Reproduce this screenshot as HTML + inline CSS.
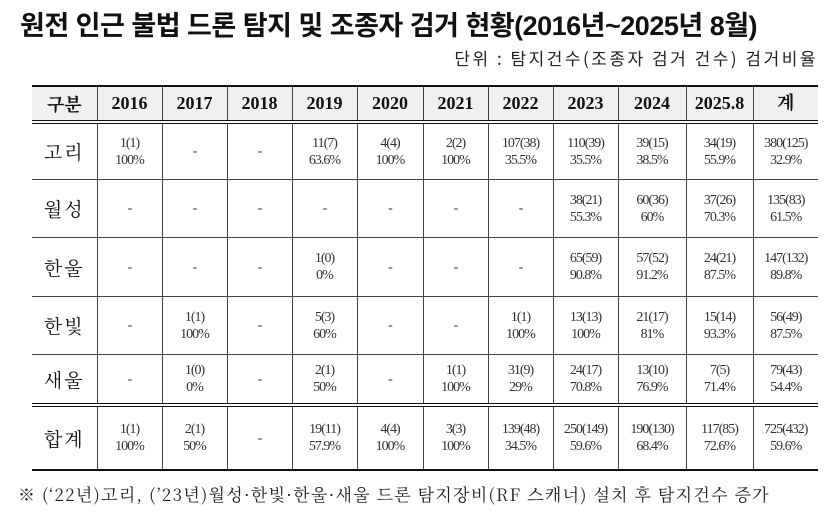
<!DOCTYPE html><html><head><meta charset="utf-8"><style>
body{margin:0;width:834px;height:526px;background:#fff;position:relative;overflow:hidden;font-family:"Liberation Serif","Noto Serif CJK SC",serif;color:#111}
.t{position:absolute;left:20px;top:4px;font:bold 27px "Liberation Sans","Noto Sans CJK KR",sans-serif;letter-spacing:-0.5px;white-space:nowrap}
.u{position:absolute;right:16px;top:45px;font:17px "Noto Sans CJK KR",sans-serif;letter-spacing:2.5px;color:#222;white-space:nowrap}
table{position:absolute;left:32px;top:85px;border-collapse:collapse;table-layout:fixed}
td{border:1px solid #444;text-align:center;padding:0;font-size:14px;line-height:17px;letter-spacing:-1px;color:#333}
td:first-child{border-left:none;font:19px "Noto Serif CJK KR",serif;color:#111;letter-spacing:2px}
td:last-child{border-right:none}
tr.h td{background:#f0f0f0;font-size:18px;font-weight:bold;color:#111;height:33px;border-top:2px solid #111;border-bottom:4px double #111;letter-spacing:0}
tr.h td:first-child{font:bold 18px "Noto Serif CJK KR",serif}
tr.s td{border-bottom:4px double #111}
tr.z td{border-bottom:2px solid #111}
.f{position:absolute;left:18px;top:481px;font:17px "Noto Serif CJK KR",serif;color:#222;letter-spacing:1.3px;white-space:nowrap}
</style></head><body>
<div class="t">원전 인근 불법 드론 탐지 및 조종자 검거 현황(2016년~2025년 8월)</div>
<div class="u">단위 : 탐지건수(조종자 검거 건수) 검거비율</div>
<table>
<colgroup><col style="width:65px"><col style="width:65px"><col style="width:65px"><col style="width:65px"><col style="width:65px"><col style="width:66px"><col style="width:65px"><col style="width:65px"><col style="width:65px"><col style="width:68px"><col style="width:67px"><col style="width:65px"></colgroup>
<tr class="h"><td>구분</td><td>2016</td><td>2017</td><td>2018</td><td>2019</td><td>2020</td><td>2021</td><td>2022</td><td>2023</td><td>2024</td><td>2025.8</td><td>계</td></tr>
<tr><td style="height:55px">고리</td><td>1(1)<br>100%</td><td>-</td><td>-</td><td>11(7)<br>63.6%</td><td>4(4)<br>100%</td><td>2(2)<br>100%</td><td>107(38)<br>35.5%</td><td>110(39)<br>35.5%</td><td>39(15)<br>38.5%</td><td>34(19)<br>55.9%</td><td>380(125)<br>32.9%</td></tr>
<tr><td style="height:57px">월성</td><td>-</td><td>-</td><td>-</td><td>-</td><td>-</td><td>-</td><td>-</td><td>38(21)<br>55.3%</td><td>60(36)<br>60%</td><td>37(26)<br>70.3%</td><td>135(83)<br>61.5%</td></tr>
<tr><td style="height:58px">한울</td><td>-</td><td>-</td><td>-</td><td>1(0)<br>0%</td><td>-</td><td>-</td><td>-</td><td>65(59)<br>90.8%</td><td>57(52)<br>91.2%</td><td>24(21)<br>87.5%</td><td>147(132)<br>89.8%</td></tr>
<tr><td style="height:57px">한빛</td><td>-</td><td>1(1)<br>100%</td><td>-</td><td>5(3)<br>60%</td><td>-</td><td>-</td><td>1(1)<br>100%</td><td>13(13)<br>100%</td><td>21(17)<br>81%</td><td>15(14)<br>93.3%</td><td>56(49)<br>87.5%</td></tr>
<tr class="s"><td style="height:48px">새울</td><td>-</td><td>1(0)<br>0%</td><td>-</td><td>2(1)<br>50%</td><td>-</td><td>1(1)<br>100%</td><td>31(9)<br>29%</td><td>24(17)<br>70.8%</td><td>13(10)<br>76.9%</td><td>7(5)<br>71.4%</td><td>79(43)<br>54.4%</td></tr>
<tr class="z"><td style="height:62px">합계</td><td>1(1)<br>100%</td><td>2(1)<br>50%</td><td>-</td><td>19(11)<br>57.9%</td><td>4(4)<br>100%</td><td>3(3)<br>100%</td><td>139(48)<br>34.5%</td><td>250(149)<br>59.6%</td><td>190(130)<br>68.4%</td><td>117(85)<br>72.6%</td><td>725(432)<br>59.6%</td></tr>
</table>
<div class="f">※ (‘22년)고리, (’23년)월성·한빛·한울·새울 드론 탐지장비(RF 스캐너) 설치 후 탐지건수 증가</div>
</body></html>
